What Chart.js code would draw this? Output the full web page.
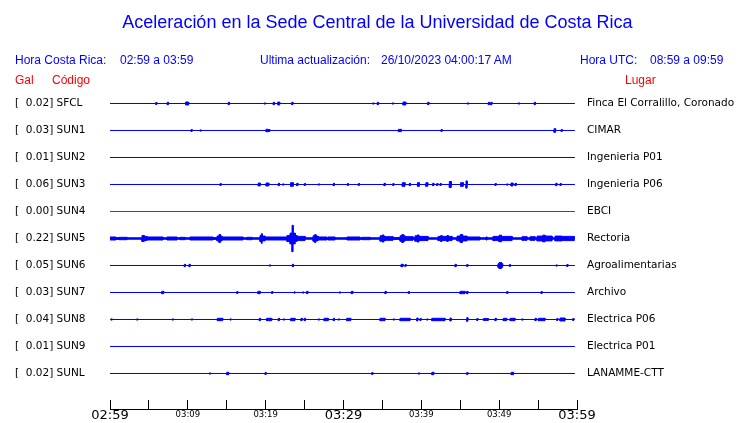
<!DOCTYPE html>
<html>
<head>
<meta charset="utf-8">
<script src="https://cdn.jsdelivr.net/npm/chart.js@4/dist/chart.umd.min.js"></script>
<style>
  body { margin: 0; background: #fff; overflow: hidden; }
  #wrap { position: relative; width: 740px; height: 423px; }
  #wrap canvas { position: absolute; left: 0; top: 0; }
  .t { position: absolute; white-space: pre; font-family: "Liberation Sans", Arial, sans-serif; line-height: 14px; }
  .blue { color: #0000ff; font-size: 12px; }
  .red { color: #ff0000; font-size: 12px; }
</style>
</head>
<body>
<div id="wrap">
  <canvas id="chart" width="740" height="423"></canvas>
  <div class="t" style="left:0;width:755px;text-align:center;top:11px;font-size:18px;line-height:22px;color:#0000ff">Aceleración en la Sede Central de la Universidad de Costa Rica</div>
  <div class="t blue" style="left:15px;top:53px">Hora Costa Rica:</div>
  <div class="t blue" style="left:120px;top:53px">02:59 a 03:59</div>
  <div class="t blue" style="left:260px;top:53px">Ultima actualización:</div>
  <div class="t blue" style="left:381px;top:53px">26/10/2023 04:00:17 AM</div>
  <div class="t blue" style="left:580px;top:53px">Hora UTC:</div>
  <div class="t blue" style="left:650px;top:53px">08:59 a 09:59</div>
  <div class="t red" style="left:15px;top:73px">Gal</div>
  <div class="t red" style="left:52px;top:73px">Código</div>
  <div class="t red" style="left:625px;top:73px">Lugar</div>
</div>
<script>
"use strict";

// stations, top to bottom
const codes = ["SFCL", "SUN1", "SUN2", "SUN3", "SUN4", "SUN5", "SUN6", "SUN7", "SUN8", "SUN9", "SUNL"];
const places = ["Finca El Corralillo, Coronado", "CIMAR", "Ingenieria P01", "Ingenieria P06", "EBCI", "Rectoria",
    "Agroalimentarias", "Archivo", "Electrica P06", "Electrica P01", "LANAMME-CTT"];
const peakGal = [0.02, 0.03, 0.01, 0.06, 0.00, 0.22, 0.05, 0.03, 0.04, 0.01, 0.02];
const timeLabels = ["02:59", "03:09", "03:19", "03:29", "03:39", "03:49", "03:59"];

// bursts per station: [start minute, end minute, amplitude in Gal]
const sfcl = [[5.87, 6.02, 0.015], [7.36, 7.51, 0.02], [9.72, 10.1, 0.025], [15.2, 15.35, 0.02], [19.83, 19.98, 0.01],
    [20.98, 21.13, 0.02], [21.55, 21.8, 0.025], [23.35, 23.5, 0.02], [33.76, 33.91, 0.01], [34.35, 34.5, 0.02],
    [36.28, 36.43, 0.01], [37.65, 38.0, 0.025], [40.82, 40.97, 0.02], [45.91, 46.06, 0.01], [48.61, 48.76, 0.02],
    [48.92, 49.07, 0.02], [52.47, 52.62, 0.01], [54.52, 54.67, 0.02]];
const sun1 = [[10.41, 10.56, 0.015], [11.57, 11.72, 0.01], [20.05, 20.3, 0.02], [20.39, 20.54, 0.015],
    [37.05, 37.2, 0.02], [37.27, 37.42, 0.02], [42.53, 42.68, 0.015], [57.05, 57.25, 0.03], [57.96, 58.11, 0.015]];
const sun2 = [];
const sun3 = [[14.14, 14.29, 0.015], [19.05, 19.3, 0.025], [20.05, 20.4, 0.025], [21.63, 21.78, 0.02],
    [22.19, 22.34, 0.01], [23.2, 23.55, 0.03], [23.99, 24.14, 0.02], [24.97, 25.12, 0.015], [26.76, 26.91, 0.01],
    [28.69, 28.84, 0.02], [30.49, 30.64, 0.015], [31.9, 32.05, 0.015], [35.21, 35.36, 0.02], [36.33, 36.48, 0.015],
    [37.55, 37.9, 0.03], [38.46, 38.61, 0.02], [39.5, 39.75, 0.03], [40.58, 40.83, 0.03], [41.46, 41.61, 0.02],
    [41.98, 42.13, 0.015], [42.4, 42.55, 0.015], [43.6, 43.85, 0.05], [45.05, 45.4, 0.03], [45.74, 45.89, 0.06],
    [49.47, 49.62, 0.015], [50.97, 51.12, 0.01], [51.52, 51.77, 0.025], [52.04, 52.19, 0.02], [57.27, 57.42, 0.02],
    [57.82, 57.97, 0.015]];
const sun4 = [];
const sun5 = [[0.0, 0.77, 0.025], [0.77, 1.16, 0.015], [1.16, 2.18, 0.02], [2.18, 4.11, 0.012], [4.11, 4.4, 0.05],
    [4.4, 4.75, 0.035], [4.75, 6.81, 0.025], [6.81, 7.32, 0.012], [7.32, 8.61, 0.025], [8.61, 9.0, 0.012],
    [9.0, 9.64, 0.02], [9.64, 10.28, 0.012], [10.28, 13.24, 0.025], [13.24, 13.75, 0.015], [13.75, 14.0, 0.04],
    [14.0, 14.2, 0.065], [14.2, 14.39, 0.04], [14.39, 17.09, 0.025], [17.09, 17.6, 0.012], [17.6, 18.25, 0.02],
    [18.25, 19.27, 0.012], [19.27, 19.45, 0.05], [19.45, 19.55, 0.08], [19.55, 19.92, 0.04], [19.92, 22.74, 0.025],
    [22.74, 23.13, 0.05], [23.13, 23.39, 0.09], [23.39, 23.52, 0.22], [23.52, 23.8, 0.09], [23.8, 24.03, 0.05],
    [24.03, 25.06, 0.035], [25.06, 26.09, 0.012], [26.09, 26.3, 0.045], [26.3, 26.45, 0.065], [26.45, 26.73, 0.04],
    [26.73, 27.88, 0.025], [27.88, 28.01, 0.012], [28.01, 28.91, 0.025], [28.91, 30.45, 0.012], [30.45, 32.12, 0.025],
    [32.12, 32.38, 0.012], [32.38, 33.41, 0.02], [33.41, 34.7, 0.012], [34.7, 35.0, 0.045], [35.0, 35.15, 0.06],
    [35.15, 35.34, 0.04], [35.34, 36.37, 0.03], [36.37, 37.27, 0.015], [37.27, 37.5, 0.045], [37.5, 37.7, 0.065],
    [37.7, 37.91, 0.045], [37.91, 38.94, 0.03], [38.94, 39.19, 0.012], [39.19, 39.5, 0.045], [39.5, 39.65, 0.06],
    [39.65, 39.84, 0.04], [39.84, 40.86, 0.035], [40.86, 42.15, 0.012], [42.15, 42.5, 0.035], [42.5, 42.65, 0.05],
    [42.65, 43.3, 0.035], [43.3, 43.45, 0.05], [43.45, 43.95, 0.035], [43.95, 44.59, 0.012], [44.59, 45.0, 0.04],
    [45.0, 45.3, 0.065], [45.3, 45.87, 0.04], [45.87, 47.54, 0.025], [47.54, 48.3, 0.012], [48.3, 48.45, 0.025],
    [48.45, 49.21, 0.012], [49.21, 50.0, 0.035], [50.0, 50.3, 0.055], [50.3, 51.66, 0.035], [51.66, 52.94, 0.012],
    [52.94, 53.58, 0.03], [53.58, 53.97, 0.012], [53.97, 54.61, 0.03], [54.61, 54.87, 0.012], [54.87, 55.6, 0.04],
    [55.6, 55.9, 0.055], [55.9, 56.8, 0.04], [56.8, 57.18, 0.012], [57.18, 58.08, 0.04], [58.08, 59.62, 0.035]];
const sun6 = [[9.55, 9.7, 0.02], [10.15, 10.3, 0.02], [20.47, 20.62, 0.01], [23.43, 23.58, 0.02], [37.4, 37.65, 0.02],
    [37.9, 38.05, 0.015], [44.33, 44.48, 0.02], [45.83, 45.98, 0.015], [49.85, 50.0, 0.03], [50.0, 50.3, 0.05],
    [50.3, 50.45, 0.03], [51.31, 51.46, 0.015], [57.31, 57.46, 0.01], [58.69, 58.84, 0.015]];
const sun7 = [[6.65, 6.9, 0.02], [16.28, 16.43, 0.015], [19.0, 19.3, 0.02], [20.77, 20.92, 0.015], [23.64, 23.79, 0.01],
    [24.75, 24.9, 0.01], [25.27, 25.42, 0.02], [29.46, 29.61, 0.01], [31.0, 31.2, 0.02], [35.33, 35.48, 0.02],
    [38.33, 38.48, 0.015], [44.97, 45.61, 0.02], [45.83, 45.98, 0.02], [50.97, 51.12, 0.015], [55.38, 55.53, 0.015]];
const sun8 = [[0.13, 0.28, 0.01], [3.43, 3.58, 0.01], [8.0, 8.15, 0.01], [10.45, 10.6, 0.01], [13.79, 14.48, 0.02],
    [15.42, 15.57, 0.01], [19.18, 19.33, 0.02], [20.13, 20.78, 0.02], [21.62, 21.77, 0.02], [22.27, 22.42, 0.01],
    [23.22, 23.77, 0.02], [24.54, 24.69, 0.02], [24.97, 25.12, 0.02], [26.76, 26.91, 0.01], [27.5, 28.05, 0.02],
    [28.69, 28.84, 0.02], [29.33, 29.48, 0.01], [30.41, 30.93, 0.02], [34.69, 35.33, 0.02], [36.4, 36.55, 0.01],
    [37.26, 38.55, 0.02], [39.41, 39.56, 0.025], [39.83, 39.98, 0.015], [40.69, 40.84, 0.01], [41.34, 43.04, 0.02],
    [43.69, 43.84, 0.025], [45.83, 45.98, 0.03], [47.12, 47.27, 0.015], [47.97, 48.61, 0.015], [49.47, 49.62, 0.02],
    [50.53, 50.97, 0.02], [51.4, 52.04, 0.02], [52.9, 53.05, 0.01], [54.61, 54.76, 0.02], [55.03, 55.89, 0.02],
    [57.4, 57.55, 0.015], [57.82, 58.46, 0.025], [59.45, 59.6, 0.015]];
const sun9 = [];
const sunl = [[12.76, 12.91, 0.01], [15.0, 15.25, 0.02], [19.92, 20.07, 0.015], [33.63, 33.78, 0.015],
    [39.61, 39.76, 0.01], [41.35, 41.6, 0.02], [45.83, 45.98, 0.015], [51.55, 51.85, 0.02]];

const bursts = [sfcl, sun1, sun2, sun3, sun4, sun5, sun6, sun7, sun8, sun9, sunl];
const traceColors = codes.map(c => c === "SUN4" ? "#ff0000" : "#0000ff");

const spacing = 0.45;   // Gal between traces
const endMinute = 59.7;
const yTop = 4.725;
const yBottom = -0.5917;

function baseOf(i) {
    return (codes.length - 1 - i) * spacing;
}

function stationIndex(value) {
    return codes.length - 1 - Math.round(value / spacing);
}

let datasets = [];
bursts.forEach((list, i) => {
    const base = baseOf(i);
    let upper = [{x: 0, y: base}];
    let lower = [{x: 0, y: base}];
    list.forEach(([s, e, a]) => {
        upper.push({x: s, y: base}, {x: s, y: base + a}, {x: e, y: base + a}, {x: e, y: base});
        lower.push({x: s, y: base}, {x: s, y: base - a}, {x: e, y: base - a}, {x: e, y: base});
    });
    upper.push({x: endMinute, y: base});
    lower.push({x: endMinute, y: base});
    const common = {
        borderColor: traceColors[i],
        backgroundColor: traceColors[i],
        borderWidth: 1,
        pointRadius: 0,
        tension: 0
    };
    datasets.push(Object.assign({data: upper, fill: "+1"}, common));
    datasets.push(Object.assign({data: lower, fill: false}, common));
});

const traceTicks = () => codes.map((c, i) => ({value: baseOf(i)})).reverse();

new Chart(document.getElementById("chart"), {
    type: "line",
    data: {datasets: datasets},
    options: {
        responsive: false,
        devicePixelRatio: 1,
        animation: false,
        layout: {padding: {top: 90, left: 15, right: 0, bottom: 0}},
        plugins: {legend: {display: false}, tooltip: {enabled: false}},
        scales: {
            x: {
                type: "linear",
                min: 0,
                max: 60,
                afterFit: scale => { scale.height = 14; },
                border: {display: true, color: "#000", width: 1},
                grid: {drawOnChartArea: false, drawTicks: true, tickLength: -9, color: "#000"},
                ticks: {
                    stepSize: 5,
                    autoSkip: false,
                    maxRotation: 0,
                    padding: 7.7,
                    color: "#000",
                    font: ctx => (ctx.tick && ctx.tick.value % 30 === 0)
                        ? {family: "DejaVu Sans", size: 13}
                        : {family: "DejaVu Sans", size: 8.5, lineHeight: 1.6},
                    callback: v => v % 10 === 0 ? timeLabels[v / 10] : ""
                }
            },
            y: {
                position: "left",
                min: yBottom,
                max: yTop,
                afterFit: scale => { scale.width = 95; },
                afterBuildTicks: scale => { scale.ticks = traceTicks(); },
                border: {display: false},
                grid: {display: false},
                ticks: {
                    autoSkip: false,
                    crossAlign: "far",
                    color: "#000",
                    font: {family: "DejaVu Sans", size: 10.5},
                    callback: v => {
                        const i = stationIndex(v);
                        return "[  " + peakGal[i].toFixed(2) + "] " + codes[i];
                    }
                }
            },
            y2: {
                position: "right",
                min: yBottom,
                max: yTop,
                afterFit: scale => { scale.width = 163; },
                afterBuildTicks: scale => { scale.ticks = traceTicks(); },
                border: {display: false},
                grid: {display: false},
                ticks: {
                    autoSkip: false,
                    padding: 2,
                    color: "#000",
                    font: {family: "DejaVu Sans", size: 10.5},
                    callback: v => places[stationIndex(v)]
                }
            }
        }
    }
});
</script>
</body>
</html>
